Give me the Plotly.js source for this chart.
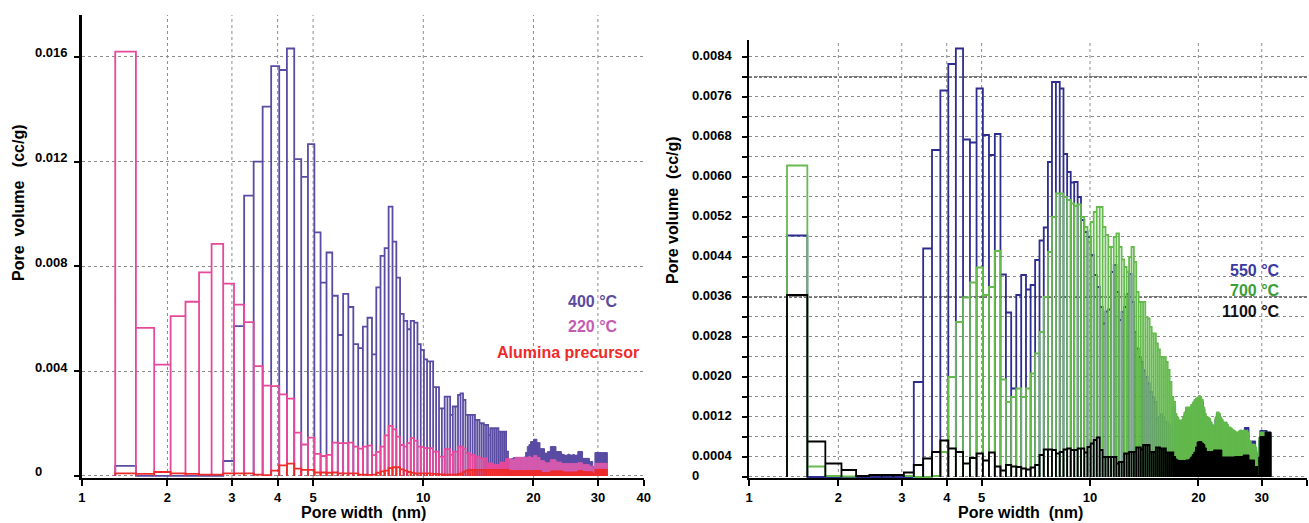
<!DOCTYPE html>
<html><head><meta charset="utf-8">
<script src="https://cdn.plot.ly/plotly-3.0.1.min.js"></script>
<style>html,body{margin:0;padding:0;background:#fff}#chart{width:1309px;height:523px}</style>
</head><body><div id="chart"></div>
<script>
// Pore-width bin edges (nm), shared by every series
const binEdges = [
1.44,1.64,1.84,2.04,2.24,2.44,2.64,2.84,3.04,3.24,
3.44,3.64,3.84,4.04,4.24,4.44,4.64,4.84,5.04,5.24,
5.44,5.64,5.84,6.04,6.24,6.44,6.64,6.84,7.04,7.24,
7.44,7.64,7.84,8.04,8.24,8.44,8.64,8.84,9.04,9.24,
9.44,9.64,9.84,10.04,10.24,10.44,10.64,10.84,11.04,11.24,
11.44,11.64,11.84,12.04,12.24,12.44,12.64,12.84,13.04,13.24,
13.44,13.64,13.84,14.04,14.24,14.44,14.64,14.84,15.04,15.24,
15.44,15.64,15.84,16.04,16.24,16.44,16.64,16.84,17.04,17.24,
17.44,17.64,17.84,18.04,18.24,18.44,18.64,18.84,19.04,19.24,
19.44,19.64,19.84,20.04,20.24,20.44,20.64,20.84,21.04,21.24,
21.44,21.64,21.84,22.04,22.24,22.44,22.64,22.84,23.04,23.24,
23.44,23.64,23.84,24.04,24.24,24.44,24.64,24.84,25.04,25.24,
25.44,25.64,25.84,26.04,26.24,26.44,26.64,26.84,27.04,27.24,
27.44,27.64,27.84,28.04,28.24,28.44,28.64,28.84,29.04,29.24,
29.44,29.64,29.84,30.04,30.24,30.44,30.64,30.84,31.04,31.24,
31.44,31.64,31.84];

// Left panel: pore volume (cc/g) per bin
const vol400 = [
0.00038,0,0,0,0,0,0,0.00057,0.00572,0.0107,
0.0120,0.0141,0.01565,0.0155,0.01632,0.0121,0.01142,0.01267,0.0093,0.00738,
0.00853,0.00688,0.00538,0.00695,0.00645,0.00503,0.00488,0.0057,0.00604,0.00464,
0.0072,0.0084,0.0087,0.01028,0.00895,0.00757,0.00619,0.00592,0.0056,0.00592,
0.00585,0.00503,0.00481,0.00445,0.00437,0.00437,0.00339,0.00339,0.00258,0.00258,
0.00303,0.00303,0.00233,0.00265,0.00265,0.00309,0.00315,0.0029,0.00233,0.00233,
0.00233,0.00233,0.00214,0.00214,0.00201,0.00201,0.00195,0.00195,0.00156,0.00182,
0.00182,0.00182,0.00182,0.00169,0.00169,0.00169,0.00169,0.00093,0.00061,0.00061,
0.00067,0.0007,0.00065,0.00062,0.00064,0.00067,0.00067,0.00072,0.0009,0.00112,
0.0012,0.00131,0.00131,0.0014,0.0014,0.00127,0.00127,0.00104,0.00104,0.00104,
0.00087,0.00087,0.00093,0.00093,0.00112,0.00112,0.00112,0.00112,0.00093,0.00093,
0.00093,0.00093,0.00083,0.00082,0.0008,0.00078,0.0008,0.00083,0.00081,0.00079,
0.0008,0.00082,0.0008,0.00078,0.0008,0.00093,0.00093,0.00093,0.00093,0.00067,
0.00067,0.00067,0.00067,0.00067,0.00067,0.00055,0.00055,0.00055,0.00035,0.00017,
0.00089,0.00089,0.00089,0.00089,0.00089,0.00089,0.00089,0.00089,0.00089,0.00089,
0.00089,0.00089];
const vol220 = [
0.0162,0.00565,0.00425,0.0061,0.00665,0.00777,0.00886,0.00734,0.00654,0.00587,
0.00419,0.00345,0.00343,0.00311,0.00295,0.00165,0.0012,0.00146,0.00084,0.00076,
0.0008,0.00127,0.00125,0.00125,0.00127,0.00112,0.00104,0.00112,0.00116,0.00079,
0.00092,0.00112,0.00155,0.00191,0.00178,0.0015,0.00118,0.00112,0.00125,0.00144,
0.00135,0.00112,0.0011,0.00106,0.00106,0.00106,0.00093,0.00093,0.00074,0.00074,
0.00102,0.00102,0.0008,0.00093,0.00093,0.00112,0.00112,0.00105,0.00087,0.00087,
0.0008,0.0008,0.00074,0.00074,0.00067,0.00067,0.00067,0.00048,0.00048,0.00048,
0.00042,0.00042,0.00042,0.00042,0.00051,0.00051,0.00051,0.00064,0.00064,0.00064,
0.00064,0.00064,0.00071,0.00071,0.00071,0.00071,0.00071,0.00071,0.00071,0.00071,
0.00075,0.0007,0.0007,0.00078,0.00078,0.0007,0.0007,0.00058,0.00058,0.00058,
0.0005,0.0005,0.0005,0.0005,0.00062,0.00062,0.00062,0.00062,0.00053,0.00053,
0.00053,0.00053,0.00047,0.00047,0.00047,0.00047,0.00047,0.00047,0.00047,0.00047,
0.00047,0.00047,0.00047,0.00047,0.00047,0.0005,0.0005,0.0005,0.0005,0.00043,
0.00043,0.00043,0.00043,0.00043,0.00043,0.00037,0.00037,0.00037,0.0003,0.0001,
0.00048,0.00048,0.00048,0.00048,0.00048,0.00048,0.00048,0.00048,0.00048,0.00048,
0.00048,0.00048];
const volPrecursor = [
0.0001,0.00008,0.00015,0.0001,0.00008,0.00005,0.00005,0.0001,0.0001,0.0001,
0.00005,0.00003,0.0002,0.0004,0.00047,0.00028,0.00023,0.00023,0.00013,0.00013,
0.00012,0.00013,0.0001,0.0001,0.0001,0.0001,0.00005,0.00005,0.00004,0.00005,
0.00012,0.00017,0.0002,0.0003,0.00033,0.00033,0.00025,0.0002,0.00015,0.00012,
0.0001,0.0001,0.0001,0.0001,0.0001,0.00009,0.00008,0.00008,0.00006,0.00006,
0.00005,0.00005,0.00005,0.00005,0.00006,0.00008,0.0001,0.00015,0.0002,0.00023,
0.00023,0.00023,0.00023,0.00023,0.00023,0.00023,0.00023,0.00023,0.00023,0.00023,
0.00023,0.00023,0.00023,0.00023,0.00023,0.00023,0.00023,0.00023,0.0002,0.0002,
0.0002,0.0002,0.0002,0.0002,0.0002,0.0002,0.0002,0.0002,0.0002,0.0002,
0.0002,0.0002,0.0002,0.0002,0.0002,0.0002,0.0002,0.0002,0.00013,0.00013,
0.00013,0.00013,0.00013,0.00013,0.00019,0.00019,0.00019,0.00019,0.00019,0.00019,
0.00019,0.00019,0.00019,0.00015,0.00015,0.00015,0.00015,0.00015,0.00015,0.00015,
0.00015,0.00015,0.00015,0.00015,0.00015,0.0002,0.0002,0.0002,0.0002,0.00016,
0.00016,0.00016,0.00016,0.00016,0.00016,0.00016,0.00016,0.00016,0.0001,0.00004,
0.00025,0.00025,0.00025,0.00025,0.00025,0.00025,0.00025,0.00025,0.00025,0.00025,
0.00025,0.00025];

// Right panel: pore volume (cc/g) per bin
const vol550 = [
0.00483,0,0,0,0,0,0,0,0,0.0019,
0.00457,0.00654,0.00773,0.00826,0.00857,0.00675,0.00669,0.00777,0.00684,0.00644,
0.00686,0.00405,0.00329,0.00177,0.00364,0.00404,0.00375,0.00384,0.00434,0.00473,
0.00499,0.0063,0.0079,0.0079,0.00777,0.00646,0.0061,0.00589,0.0059,0.0056,
0.00514,0.0049,0.0048,0.00444,0.00404,0.0038,0.0034,0.00307,0.00331,0.00335,
0.0041,0.00424,0.0037,0.00314,0.0033,0.0034,0.00366,0.00406,0.0035,0.0029,
0.00257,0.0024,0.0023,0.00213,0.002,0.00187,0.0017,0.0016,0.0015,0.00115,
0.0012,0.00125,0.0012,0.0011,0.0011,0.00105,0.001,0.00099,0.0014,0.00122,
0.00115,0.0011,0.0011,0.00115,0.00125,0.00135,0.00135,0.00135,0.0014,0.00145,
0.0015,0.00153,0.00155,0.00158,0.00155,0.0015,0.00135,0.00122,0.00115,0.00115,
0.00112,0.00105,0.00097,0.001,0.00115,0.00125,0.00125,0.00122,0.00115,0.0011,
0.00105,0.00105,0.00105,0.001,0.00095,0.00095,0.00093,0.0009,0.00089,0.00089,
0.00089,0.00089,0.00089,0.00089,0.00089,0.00089,0.00089,0.00099,0.00099,0.00099,
0.00099,0.0007,0.0007,0.00072,0.00072,0.00072,0.00072,0.00057,0.00045,0.00015,
0.00075,0.00093,0.00093,0.00093,0.00093,0.00093,0.00093,0.00093,0.00083,0.00083,
0.00083,0.00083];
const vol700 = [
0.00623,0.00021,0.00002,0.00001,0.00002,0.00004,0.00004,0.00004,0.00002,0,
0,0.00002,0.0005,0.002,0.0031,0.00359,0.00389,0.00419,0.00364,0.0038,
0.00452,0.00195,0.0015,0.0016,0.00177,0.0016,0.00177,0.00207,0.00247,0.0029,
0.0036,0.0045,0.0052,0.00567,0.00567,0.0056,0.00554,0.00547,0.00542,0.00545,
0.0052,0.005,0.0047,0.0051,0.0053,0.0054,0.0054,0.005,0.00484,0.0046,
0.0046,0.0048,0.00487,0.0046,0.00435,0.0042,0.0041,0.0044,0.0046,0.0043,
0.0037,0.0035,0.0035,0.0035,0.0032,0.00317,0.003,0.00287,0.00287,0.00267,
0.00255,0.0024,0.0024,0.0024,0.0023,0.00214,0.0019,0.0016,0.0015,0.00127,
0.0012,0.00114,0.00114,0.0012,0.0013,0.0014,0.0014,0.0014,0.00145,0.0015,
0.00155,0.00158,0.0016,0.00163,0.0016,0.00155,0.0014,0.00127,0.0012,0.0012,
0.00117,0.0011,0.00101,0.00105,0.0012,0.0013,0.0013,0.00127,0.0012,0.00115,
0.0011,0.0011,0.0011,0.00105,0.001,0.001,0.00098,0.00095,0.00094,0.00092,
0.0009,0.0009,0.00092,0.00094,0.00094,0.00093,0.00094,0.00094,0.00093,0.00094,
0.0009,0.00074,0.00072,0.00066,0.00066,0.00066,0.00065,0.0006,0.0005,0.00017,
0.0008,0.0009,0.0009,0.0009,0.0009,0.0009,0.0009,0.00087,0.00087,0.00087,
0.00087,0.00087];
const vol1100 = [
0.00364,0.00071,0.00027,0.00014,0.00002,0.00004,0.00004,0.00004,0.00009,0.00024,
0.00037,0.0005,0.00073,0.00057,0.0005,0.00027,0.00038,0.00047,0.00033,0.00049,
0.00021,0.00013,0.00024,0.00021,0.0002,0.00017,0.00015,0.00019,0.00024,0.00044,
0.00055,0.00055,0.00054,0.00047,0.0005,0.00055,0.00057,0.00054,0.00054,0.00057,
0.00057,0.00049,0.0006,0.00067,0.00074,0.00079,0.00054,0.0004,0.0004,0.0004,
0.0004,0.0004,0.00027,0.0003,0.0003,0.00047,0.00047,0.0005,0.0005,0.0005,
0.00059,0.00059,0.00055,0.00064,0.00064,0.00064,0.0005,0.0005,0.0005,0.00059,
0.00059,0.00057,0.00057,0.00057,0.00049,0.00049,0.00049,0.00049,0.0004,0.00036,
0.00034,0.00033,0.00033,0.00033,0.00033,0.00034,0.00034,0.00036,0.0004,0.00045,
0.0005,0.0006,0.0007,0.00071,0.00071,0.00068,0.00065,0.00058,0.00051,0.00051,
0.00051,0.00051,0.00051,0.00054,0.00054,0.00054,0.00054,0.00054,0.00054,0.0004,
0.0004,0.0004,0.0004,0.0004,0.0004,0.0004,0.0004,0.0004,0.0004,0.00041,
0.00041,0.00041,0.00041,0.00041,0.00041,0.00041,0.00044,0.00044,0.00044,0.00044,
0.00044,0.00034,0.00034,0.00034,0.00034,0.00034,0.00021,0.00021,0.00021,0.00004,
0.0004,0.00081,0.00081,0.00081,0.00081,0.00081,0.0009,0.0009,0.0009,0.0009,
0.0009,0.0009];

// Axis ticks and labels
const xTickText = ['1','2','3','4','5','10','20','30','40'];
const xTickValsLeft = [1.167,2,3,4,5,10,20,30,40];
const xTickValsRight = [1.130,2,3,4,5,10,20,30,40];
const xGridVals = [2,3,4,5,10,20,30];
const yTickValsLeft = [0,0.004,0.008,0.012,0.016];
const yTickTextLeft = ['0','0.004','0.008','0.012','0.016'];
const yTickValsRight = [0,0.0004,0.0008,0.0012,0.0016,0.002,0.0024,0.0028,0.0032,0.0036,0.004,
  0.0044,0.0048,0.0052,0.0056,0.006,0.0064,0.0068,0.0072,0.0076,0.008,0.0084];
const yLabelValsRight = [0,0.0004,0.0012,0.002,0.0028,0.0036,0.0044,0.0052,0.006,0.0068,0.0076,0.0084];
const yLabelTextRight = ['0','0.0004','0.0012','0.0020','0.0028','0.0036','0.0044','0.0052','0.0060','0.0068','0.0076','0.0084'];
const darkGridRight = [0.0036,0.008];

const nBins = binEdges.length - 1;
[['vol400',vol400],['vol220',vol220],['volPrecursor',volPrecursor],['vol550',vol550],['vol700',vol700],['vol1100',vol1100]]
  .forEach(([n,a]) => { if (a.length !== nBins) throw new Error(n + ' has ' + a.length + ' values'); });

const DENSE_FROM = 79; // bins narrower than the outline stroke: drawn as a filled area
function outline(values, i0, i1) {
  const x = [], y = [];
  for (let i = i0; i < i1; i++) {
    x.push(binEdges[i], binEdges[i], binEdges[i+1], binEdges[i+1]);
    y.push(0, values[i], values[i], 0);
  }
  return {x, y};
}
function seriesTraces(values, color, fillColor, xa, ya) {
  const a = outline(values, 0, DENSE_FROM);
  const b = outline(values, DENSE_FROM, nBins);
  return [
    {type:'scatter', mode:'lines', x:a.x, y:a.y, xaxis:xa, yaxis:ya, line:{color:color, width:1.8}, hoverinfo:'skip'},
    {type:'scatter', mode:'lines', x:b.x, y:b.y, xaxis:xa, yaxis:ya, fill:'toself', fillcolor:fillColor,
     line:{color:fillColor, width:1}, hoverinfo:'skip'}
  ];
}

const data = [].concat(
  seriesTraces(vol400, '#5a4ca3', '#5a4ca3', 'x', 'y'),
  seriesTraces(vol220, '#e6489c', '#d35aae', 'x', 'y'),
  seriesTraces(volPrecursor, '#ee2c2c', '#ee2c2c', 'x', 'y'),
  seriesTraces(vol550, '#2d2d8f', '#2d2d8f', 'x2', 'y2'),
  seriesTraces(vol700, '#66bb4f', '#62b84c', 'x2', 'y2'),
  seriesTraces(vol1100, '#000000', '#000000', 'x2', 'y2')
);

const FONT = 'Liberation Sans, Arial, sans-serif';
const tickFont = {family:FONT, size:13, color:'#000', weight:'bold'};
function xAxis(domain, range, tickvals, anchor) {
  return {domain, type:'log', range, tickvals, ticktext:xTickText, ticks:'outside', ticklen:6, tickwidth:2,
    tickcolor:'#000', showline:true, linewidth:2, linecolor:'#000', showgrid:false, zeroline:false,
    tickfont:tickFont, anchor, fixedrange:true};
}
function yAxis(domain, range, tickvals, anchor) {
  return {domain, range, tickvals, showticklabels:false, ticks:'outside', ticklen:5, tickwidth:2, tickcolor:'#000',
    showline:true, linewidth:2.5, linecolor:'#000', showgrid:true, gridcolor:'#8c8c8c', gridwidth:1,
    griddash:'3px,3px', zeroline:false, anchor, fixedrange:true};
}

const shapes = [];
xGridVals.forEach(v => {
  shapes.push({type:'line', layer:'below', xref:'x', yref:'y domain', x0:v, x1:v, y0:0, y1:1,
    line:{color:'#8c8c8c', width:1, dash:'3px,3px'}});
  shapes.push({type:'line', layer:'below', xref:'x2', yref:'y2 domain', x0:v, x1:v, y0:0, y1:1,
    line:{color:'#8c8c8c', width:1, dash:'3px,3px'}});
});
darkGridRight.forEach(v => {
  shapes.push({type:'line', layer:'below', xref:'x2 domain', yref:'y2', x0:0, x1:1, y0:v, y1:v,
    line:{color:'#444', width:1.6, dash:'3px,2px'}});
});

const annotations = [];
yTickValsLeft.forEach((v,i) => annotations.push({xref:'paper', yref:'y', x:33/1309, y:v, xanchor:'left', yanchor:'middle',
  yshift:4, text:yTickTextLeft[i], showarrow:false, font:tickFont}));
yLabelValsRight.forEach((v,i) => annotations.push({xref:'paper', yref:'y2', x:690/1309, y:v, xanchor:'left', yanchor:'middle',
  yshift:1, text:yLabelTextRight[i], showarrow:false, font:tickFont}));
const titleFont = {family:FONT, size:16, color:'#000', weight:'bold'};
annotations.push(
  {xref:'paper', yref:'paper', x:18/1309, y:1-203/523, text:'Pore\u00a0 volume\u00a0\u00a0 (cc/g)', textangle:-90, showarrow:false, font:titleFont, xanchor:'center', yanchor:'middle'},
  {xref:'paper', yref:'paper', x:672/1309, y:1-210/523, text:'Pore volume\u00a0 (cc/g)', textangle:-90, showarrow:false, font:titleFont, xanchor:'center', yanchor:'middle'},
  {xref:'paper', yref:'paper', x:363/1309, y:1-512/523, text:'Pore width\u00a0 (nm)', showarrow:false, font:titleFont, xanchor:'center', yanchor:'middle'},
  {xref:'paper', yref:'paper', x:1020/1309, y:1-512/523, text:'Pore width\u00a0 (nm)', showarrow:false, font:titleFont, xanchor:'center', yanchor:'middle'}
);
const legendFont = c => ({family:FONT, size:16, color:c, weight:'bold'});
annotations.push(
  {xref:'paper', yref:'paper', x:620/1309, y:1-301/523, xanchor:'right', yanchor:'middle', text:'400 °C', showarrow:false, font:legendFont('#5b4ba0')},
  {xref:'paper', yref:'paper', x:620/1309, y:1-326/523, xanchor:'right', yanchor:'middle', text:'220 °C', showarrow:false, font:legendFont('#c45cb2')},
  {xref:'paper', yref:'paper', x:641/1309, y:1-352/523, xanchor:'right', yanchor:'middle', text:'Alumina precursor', showarrow:false, font:legendFont('#ee2a2a')},
  {xref:'paper', yref:'paper', x:1282/1309, y:1-270/523, xanchor:'right', yanchor:'middle', text:'550 °C', showarrow:false, font:legendFont('#3a3a9e')},
  {xref:'paper', yref:'paper', x:1282/1309, y:1-290/523, xanchor:'right', yanchor:'middle', text:'700 °C', showarrow:false, font:legendFont('#3a9e3a')},
  {xref:'paper', yref:'paper', x:1282/1309, y:1-311/523, xanchor:'right', yanchor:'middle', text:'1100 °C', showarrow:false, font:legendFont('#111111')}
);

const layout = {
  width:1309, height:523, margin:{l:0, r:0, t:0, b:0}, paper_bgcolor:'#ffffff', plot_bgcolor:'rgba(0,0,0,0)',
  showlegend:false, font:{family:FONT},
  xaxis: xAxis([0.06241,0.49183], [0.0667,1.6025], xTickValsLeft, 'y'),
  yaxis: yAxis([0.08604,0.97132], [-0.00008,0.0176], yTickValsLeft, 'x'),
  xaxis2: xAxis([0.57220,0.99840], [0.0528,1.6025], xTickValsRight, 'y2'),
  yaxis2: yAxis([0.08604,0.92352], [-0.00002,0.00874], yTickValsRight, 'x2'),
  shapes, annotations
};
Plotly.newPlot('chart', data, layout, {staticPlot:true, displayModeBar:false});
</script></body></html>
